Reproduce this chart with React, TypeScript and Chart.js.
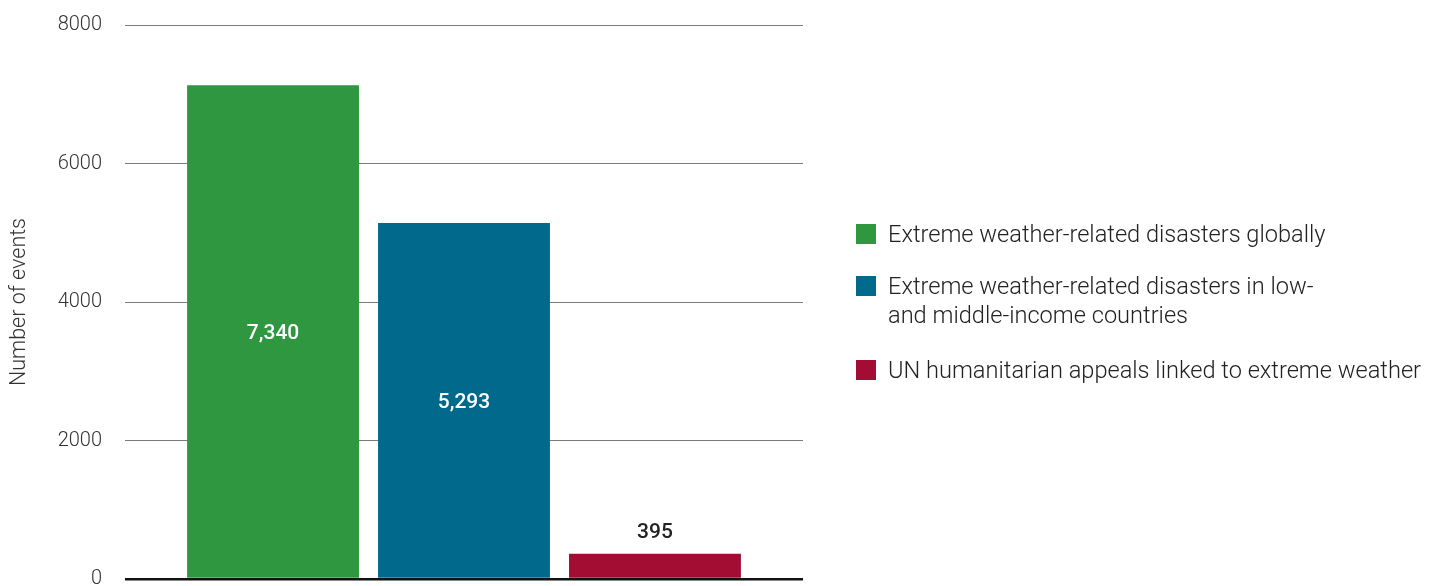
import React, { useEffect, useRef } from "react";
import { Chart, registerables } from "chart.js";

Chart.register(...registerables);

const categories = [""];
const seriesNames = [
  "Extreme weather-related disasters globally",
  "Extreme weather-related disasters in low-\nand middle-income countries",
  "UN humanitarian appeals linked to extreme weather",
];
const seriesValues = [7130, 5140, 365];
const valueLabels = ["7,340", "5,293", "395"];
const seriesColors = ["#2e973f", "#00698c", "#a30d34"];
const yTickValues = [0, 2000, 4000, 6000, 8000];
const yAxisTitle = "Number of events";

const FONT = "Roboto, 'DejaVu Sans', sans-serif";

const valueLabelPlugin = {
  id: "valueLabels",
  afterDatasetsDraw(chart: any) {
    const ctx = chart.ctx;
    ctx.save();
    ctx.font = `500 21px ${FONT}`;
    ctx.textAlign = "center";
    ctx.textBaseline = "middle";
    chart.data.datasets.forEach((ds: any, i: number) => {
      const meta = chart.getDatasetMeta(i);
      const el = meta.data[0];
      if (!el) return;
      const h = el.base - el.y;
      if (h > 60) {
        ctx.fillStyle = "#ffffff";
        ctx.fillText(valueLabels[i], el.x, (el.y + el.base) / 2 + 2);
      } else {
        ctx.fillStyle = "#222222";
        ctx.fillText(valueLabels[i], el.x, el.y - 21);
      }
    });
    ctx.restore();
  },
};

export default function App() {
  const canvasRef = useRef<HTMLCanvasElement | null>(null);

  useEffect(() => {
    document.body.style.margin = "0";
    const canvas = canvasRef.current;
    if (!canvas) return;
    const chart = new Chart(canvas, {
      type: "bar",
      data: {
        labels: categories,
        datasets: seriesNames.map((name, i) => ({
          label: name,
          data: [seriesValues[i]],
          backgroundColor: seriesColors[i],
          borderWidth: 0,
          categoryPercentage: 0.845,
          barPercentage: 0.9,
        })),
      },
      options: {
        responsive: false,
        animation: false,
        devicePixelRatio: 1,
        layout: { padding: { top: 25, right: 637, bottom: 7, left: 0 } },
        plugins: {
          legend: { display: false },
          tooltip: { enabled: false },
        },
        scales: {
          x: { display: false },
          y: {
            min: 0,
            max: 8000,
            afterBuildTicks: (scale: any) => {
              scale.ticks = yTickValues.map((v) => ({ value: v }));
            },
            afterFit: (scale: any) => {
              scale.width = 125;
              scale.paddingTop = 0;
              scale.paddingBottom = 0;
            },
            border: { display: false },
            grid: {
              drawTicks: false,
              color: (c: any) => (c.tick && c.tick.value === 0 ? "#111111" : "#7a7a7a"),
              lineWidth: (c: any) => (c.tick && c.tick.value === 0 ? 2.5 : 1),
            },
            ticks: {
              padding: 23,
              color: "#333333",
              font: { family: FONT, size: 20, weight: 300 },
              callback: (v: any) => String(v),
            },
            title: {
              display: true,
              text: yAxisTitle,
              color: "#333333",
              font: { family: FONT, size: 21.5, weight: 300 },
              padding: { top: 7, bottom: 0 },
            },
          },
        },
      },
      plugins: [valueLabelPlugin],
    });
    return () => chart.destroy();
  }, []);

  const legendTops = [220, 272, 356];

  return (
    <div style={{ position: "fixed", left: 0, top: 0, width: 1440, height: 586, background: "#fff", overflow: "hidden" }}>
      <canvas ref={canvasRef} width={1440} height={586} style={{ position: "absolute", left: 0, top: 0 }} />
      {seriesNames.map((name, i) => (
        <div
          key={i}
          style={{
            position: "absolute",
            left: 856,
            top: legendTops[i],
            display: "flex",
            alignItems: "flex-start",
            fontFamily: FONT,
            fontWeight: 300,
            fontSize: 23.6,
            lineHeight: "29px",
            color: "#222",
            whiteSpace: "pre-line",
          }}
        >
          <span style={{ display: "inline-block", width: 20, height: 20, background: seriesColors[i], marginTop: 4, marginRight: 12, flexShrink: 0 }} />
          <span>{name}</span>
        </div>
      ))}
    </div>
  );
}
